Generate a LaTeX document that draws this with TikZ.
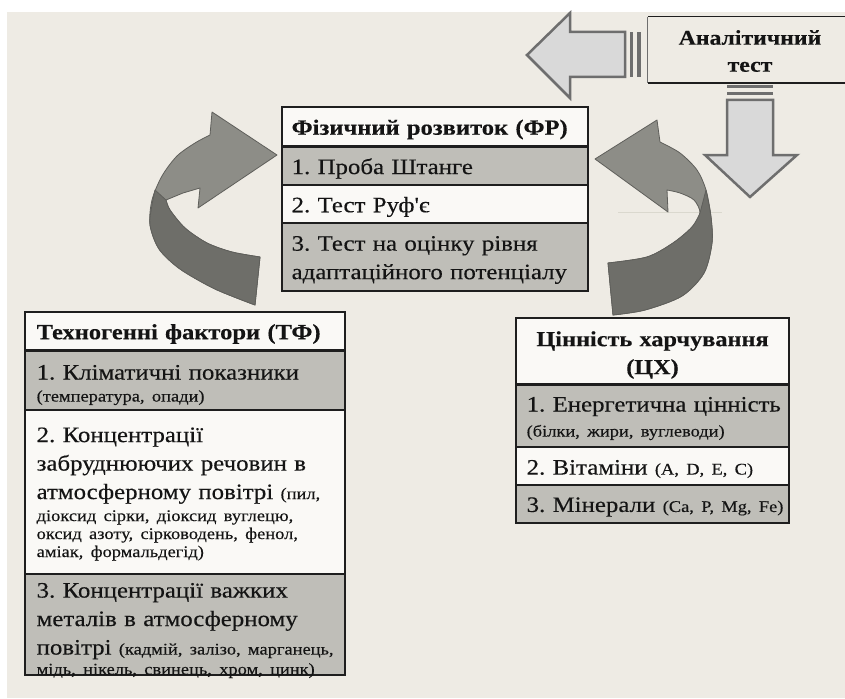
\documentclass[tikz,border=0pt]{standalone}
\usepackage{fontspec}
\setmainfont[FakeStretch=1.13, FakeBold=0.3]{Liberation Serif}
\newfontfamily\plainserif[FakeStretch=1.13, FakeBold=0.3]{Liberation Serif}
\setlength{\parindent}{0pt}
\frenchspacing
\definecolor{bg}{HTML}{EEEBE4}
\definecolor{rowg}{HTML}{BFBEB8}
\definecolor{roww}{HTML}{FAF9F6}
\definecolor{lc}{HTML}{1E1E1E}
\definecolor{txt}{HTML}{141414}
\definecolor{blkfill}{HTML}{D9D9D9}
\definecolor{blkline}{HTML}{6E6E6E}
\definecolor{cvlight}{HTML}{8D8D87}
\definecolor{cvdark}{HTML}{6E6E69}
\definecolor{cvline}{HTML}{5F5F5B}
\definecolor{stray}{HTML}{DAD8CE}
\newcommand\bt{\fontsize{22}{28.5}\selectfont}
\newcommand\st{\fontsize{16.3}{18}\selectfont}
\begin{document}
\begin{tikzpicture}[x=1pt,y=-1pt,
 cell/.style={draw=lc, line width=1.1pt, inner sep=0pt},
 gcell/.style={cell, fill=rowg},
 wcell/.style={cell, fill=roww},
 txtn/.style={anchor=west, inner sep=0pt, text width=400pt, align=left, font=\bt, text=txt, yshift=-3pt},
 txth/.style={txtn, font=\fontsize{21.7}{28}\selectfont\bfseries},
 txtc/.style={anchor=center, inner sep=0pt, text width=280pt, align=center, font=\bt\bfseries, text=txt},
 sep/.style={draw=lc, line width=2.4pt},
 blk/.style={fill=blkfill, draw=blkline, line width=2.5pt, line join=miter},
 bar/.style={fill=blkline},
 cvl/.style={fill=cvlight, draw=cvline, line width=0.8pt, line join=round},
 cvd/.style={fill=cvdark, draw=cvline, line width=0.8pt, line join=round}
]
\useasboundingbox (0,0) rectangle (845,698);
\clip (0,0) rectangle (845,698);
\fill[white] (0,0) rectangle (845,698);
\fill[bg] (7,12) rectangle (845,698);

% stray faint line
\draw[stray, line width=1pt] (618,212) -- (722,212);

% ---- block arrows
\draw[blk] (527,55) -- (570,13) -- (570,32) -- (625,32) -- (625,77) -- (570,77) -- (570,98) -- cycle;
\fill[bar] (630,32) rectangle (633,77);
\fill[bar] (637,32) rectangle (641,77);
\draw[blk] (750,197) -- (705,155) -- (727,155) -- (727,100) -- (773,100) -- (773,155) -- (797,155) -- cycle;
\fill[bar] (727,85) rectangle (773,88);
\fill[bar] (727,92) rectangle (773,95);

% ---- analytic test box
\node[fill=bg, minimum width=204pt, minimum height=66pt, inner sep=0pt] (an) at (750,50) {};
\draw[lc, line width=1.4pt] (an.north west) -- (an.north east);
\draw[lc, line width=2pt] (an.south west) -- (an.south east);
\draw[blkline, line width=1pt] (an.north west) -- (an.south west);
\node[txtc, font=\fontsize{21}{27}\selectfont\bfseries, yshift=-1pt] (ant) at (an.center) {Аналітичний\\тест};

% ---- curved arrows
% left
\path[cvl] (255,305) -- (260,257)
  -- plot[smooth] coordinates {(260,257) (232,252) (207,243) (185,228) (170,210) (166,200)}
  -- (183,193) -- (200,188) -- (198,208) -- (277,155) -- (212,112) -- (210,135)
  -- plot[smooth] coordinates {(210,135) (195,143) (177,156) (162,176) (152,200) (150,225) (159,249) (180,269) (215,289) (255,305)}
  -- cycle;
\path[cvd] (255,305) -- (260,257)
  -- plot[smooth] coordinates {(260,257) (232,252) (207,243) (185,228) (170,210) (166,200)}
  -- (155,190)
  -- plot[smooth] coordinates {(155,190) (152,205) (150,225) (159,249) (180,269) (215,289) (255,305)}
  -- cycle;
% right
\path[cvl] (595,159) -- (657,120) -- (660,142)
  -- plot[smooth] coordinates {(660,142) (680,153) (697,170) (706,190) (711,217) (712,243) (704,273) (682,296) (645,310) (613,315)}
  -- (608,263)
  -- plot[smooth] coordinates {(608,263) (647,257) (673,243) (692,227) (700,213) (694,200) (680,193) (667,190)}
  -- (668,212) -- cycle;
\path[cvd] (706,190)
  -- plot[smooth] coordinates {(706,190) (711,217) (712,243) (704,273) (682,296) (645,310) (613,315)}
  -- (608,263)
  -- plot[smooth] coordinates {(608,263) (647,257) (673,243) (692,227) (700,213)}
  -- cycle;

% ---- FR box
\node[wcell, minimum width=306pt, minimum height=39pt] (frh) at (435,126.5) {};
\node[gcell, minimum width=306pt, minimum height=39pt] (fr1) at (435,165.5) {};
\node[wcell, minimum width=306pt, minimum height=38pt] (fr2) at (435,204) {};
\node[gcell, minimum width=306pt, minimum height=68pt] (fr3) at (435,257) {};
\draw[sep] (frh.south west) -- (frh.south east);
\node[txth] (frht) at ([xshift=10pt]frh.west) {Фізичний розвиток (ФР)};
\node[txtn] (fr1t) at ([xshift=10pt]fr1.west) {1. Проба Штанге};
\node[txtn] (fr2t) at ([xshift=10pt]fr2.west) {2. Тест Руф{\plainserif '}є};
\node[txtn] (fr3t) at ([xshift=10pt]fr3.west) {3. Тест на оцінку рівня\par адаптаційного потенціалу\par};

% ---- TF box
\node[wcell, minimum width=320pt, minimum height=38pt] (tfh) at (185,331) {};
\node[gcell, minimum width=320pt, minimum height=60pt] (tf1) at (185,380) {};
\node[wcell, minimum width=320pt, minimum height=164pt] (tf2) at (185,492) {};
\node[gcell, minimum width=320pt, minimum height=101pt] (tf3) at (185,624.5) {};
\draw[sep] (tfh.south west) -- (tfh.south east);
\node[txth] (tfht) at ([xshift=12pt]tfh.west) {Техногенні фактори (ТФ)};
\node[txtn, yshift=-2pt] (tf1t) at ([xshift=12pt]tf1.west) {1. Кліматичні показники\par\vspace{4pt}\st (температура, опади)\par};
\node[txtn, yshift=1pt] (tf2t) at ([xshift=12pt]tf2.west) {2. Концентрації\par забруднюючих речовин в\par атмосферному повітрі {\st (пил,}\par\vspace{4pt}\st діоксид сірки, діоксид вуглецю,\par оксид азоту, сірководень, фенол,\par аміак, формальдегід)\par};
\node[txtn, yshift=-3pt] (tf3t) at ([xshift=12pt]tf3.west) {3. Концентрації важких\par металів в атмосферному\par повітрі {\st (кадмій, залізо, марганець,}\par\vspace{2pt}\st мідь, нікель, свинець, хром, цинк)\par};

% ---- CX box
\node[wcell, minimum width=273pt, minimum height=66pt] (cxh) at (652.5,351) {};
\node[gcell, minimum width=273pt, minimum height=63pt] (cx1) at (652.5,415.5) {};
\node[wcell, minimum width=273pt, minimum height=38pt] (cx2) at (652.5,466) {};
\node[gcell, minimum width=273pt, minimum height=38pt] (cx3) at (652.5,504) {};
\draw[sep] (cxh.south west) -- (cxh.south east);
\node[txtc, font=\fontsize{21.5}{28}\selectfont\bfseries, yshift=-4pt] (cxht) at (cxh.center) {Цінність харчування\\(ЦХ)};
\node[txtn] (cx1t) at ([xshift=11pt]cx1.west) {1. Енергетична цінність\par\vspace{7pt}\st (білки, жири, вуглеводи)\par};
\node[txtn] (cx2t) at ([xshift=11pt]cx2.west) {2. Вітаміни {\st (A, D, E, C)}};
\node[txtn] (cx3t) at ([xshift=11pt]cx3.west) {3. Мінерали {\st (Ca, P, Mg, Fe)}};
\end{tikzpicture}
\end{document}
